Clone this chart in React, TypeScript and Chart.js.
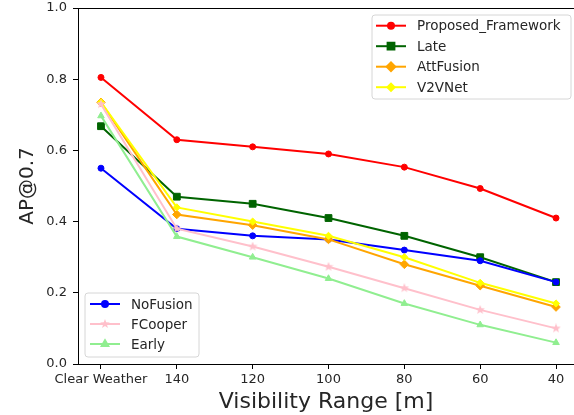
import React, { useEffect, useRef } from "react";
import { Chart, registerables } from "chart.js";
import { drawPoint } from "chart.js/helpers";

Chart.register(...registerables);

const categories = ["Clear Weather", "140", "120", "100", "80", "60", "40"];
const proposed = [0.805, 0.63, 0.61, 0.59, 0.553, 0.493, 0.41];
const late = [0.668, 0.47, 0.45, 0.41, 0.36, 0.3, 0.23];
const attFusion = [0.735, 0.42, 0.39, 0.35, 0.28, 0.22, 0.16];
const v2vNet = [0.735, 0.44, 0.4, 0.36, 0.3, 0.228, 0.17];
const noFusion = [0.55, 0.38, 0.36, 0.35, 0.32, 0.29, 0.23];
const fCooper = [0.73, 0.38, 0.33, 0.273, 0.213, 0.152, 0.1];
const early = [0.697, 0.358, 0.3, 0.24, 0.17, 0.11, 0.06];
const yTicks = [0, 0.2, 0.4, 0.6, 0.8, 1.0];

const FONT = "'DejaVu Sans', sans-serif";
const TEXT = "#262626";

function makeStar(color: string, size: number): HTMLCanvasElement {
  const c = document.createElement("canvas");
  c.width = size;
  c.height = size;
  const ctx = c.getContext("2d")!;
  const cx = size / 2, cy = size / 2;
  const ro = size / 2, ri = ro * 0.42;
  ctx.beginPath();
  for (let i = 0; i < 10; i++) {
    const r = i % 2 === 0 ? ro : ri;
    const a = -Math.PI / 2 + (i * Math.PI) / 5;
    const x = cx + r * Math.cos(a), y = cy + r * Math.sin(a);
    if (i === 0) ctx.moveTo(x, y); else ctx.lineTo(x, y);
  }
  ctx.closePath();
  ctx.fillStyle = color;
  ctx.fill();
  return c;
}

type Series = { label: string; data: number[]; color: string; style: any; radius: number; order: number };

export default function App() {
  const ref = useRef<HTMLCanvasElement>(null);
  useEffect(() => {
    const star = makeStar("#FFC0CB", 10);
    const series: Series[] = [
      { label: "Proposed_Framework", data: proposed, color: "#FF0000", style: "circle", radius: 3, order: 1 },
      { label: "Late", data: late, color: "#006400", style: "rect", radius: 4.8, order: 7 },
      { label: "AttFusion", data: attFusion, color: "#FFA500", style: "rectRot", radius: 4.3, order: 5 },
      { label: "V2VNet", data: v2vNet, color: "#FFFF00", style: "rectRot", radius: 3.6, order: 4 },
      { label: "NoFusion", data: noFusion, color: "#0000FF", style: "circle", radius: 3, order: 6 },
      { label: "FCooper", data: fCooper, color: "#FFC0CB", style: star, radius: 4, order: 3 },
      { label: "Early", data: early, color: "#90EE90", style: "triangle", radius: 3.8, order: 2 },
    ];
    const legendTop = ["Proposed_Framework", "Late", "AttFusion", "V2VNet"];
    const legendBottom = ["NoFusion", "FCooper", "Early"];

    const legendPlugin = {
      id: "mplLegends",
      afterDraw(chart: any) {
        const ctx = chart.ctx as CanvasRenderingContext2D;
        const ca = chart.chartArea;
        ctx.save();
        ctx.strokeStyle = "#000";
        ctx.lineWidth = 1;
        ctx.beginPath();
        ctx.moveTo(ca.left, Math.round(ca.top) + 0.5);
        ctx.lineTo(ca.right, Math.round(ca.top) + 0.5);
        ctx.stroke();

        const drawLegend = (names: string[], bx: number, by: number, bw: number, bh: number, lineX0: number, textX: number, rowY0: number, rowDy: number) => {
          ctx.save();
          ctx.beginPath();
          const r = 3;
          ctx.moveTo(bx + r, by);
          ctx.arcTo(bx + bw, by, bx + bw, by + bh, r);
          ctx.arcTo(bx + bw, by + bh, bx, by + bh, r);
          ctx.arcTo(bx, by + bh, bx, by, r);
          ctx.arcTo(bx, by, bx + bw, by, r);
          ctx.closePath();
          ctx.fillStyle = "rgba(255,255,255,0.8)";
          ctx.fill();
          ctx.strokeStyle = "#d6d6d6";
          ctx.lineWidth = 1;
          ctx.stroke();
          names.forEach((n, i) => {
            const s = series.find((q) => q.label === n)!;
            const y = rowY0 + i * rowDy;
            ctx.strokeStyle = s.color;
            ctx.lineWidth = 2;
            ctx.beginPath();
            ctx.moveTo(lineX0, y);
            ctx.lineTo(lineX0 + 30, y);
            ctx.stroke();
            ctx.fillStyle = s.color;
            ctx.strokeStyle = s.color;
            drawPoint(ctx, { pointStyle: s.style, radius: s.radius, rotation: 0, borderWidth: 1 } as any, lineX0 + 15, y);
            ctx.fillStyle = TEXT;
            ctx.font = `13.5px ${FONT}`;
            ctx.textAlign = "left";
            ctx.textBaseline = "middle";
            ctx.fillText(n, textX, y + 1);
          });
          ctx.restore();
        };
        drawLegend(legendTop, 372, 15, 199, 84, 376, 417, 25.7, 20.5);
        drawLegend(legendBottom, 85, 293, 114, 64, 90, 131, 304, 20);
        ctx.restore();
      },
    };

    const chart = new Chart(ref.current!, {
      type: "line",
      data: {
        datasets: series.map((s) => ({
          label: s.label,
          data: s.data.map((v, i) => ({ x: i, y: v })),
          borderColor: s.color,
          backgroundColor: s.color,
          pointBackgroundColor: s.color,
          pointBorderColor: s.color,
          pointStyle: s.style,
          pointRadius: s.radius,
          pointBorderWidth: 1,
          borderWidth: 2,
          tension: 0,
          order: s.order,
          clip: false,
        })),
      },
      options: {
        animation: false,
        responsive: false,
        events: [],
        layout: { autoPadding: false, padding: { top: 8, right: 0, left: 0, bottom: 0 } },
        plugins: { legend: { display: false }, tooltip: { enabled: false } },
        scales: {
          x: {
            type: "linear",
            min: -0.303,
            max: 6.237,
            afterBuildTicks: (scale: any) => {
              scale.ticks = categories.map((_, i) => ({ value: i }));
            },
            afterFit: (scale: any) => {
              scale.height = 51;
              scale.paddingLeft = 0;
              scale.paddingRight = 0;
            },
            ticks: {
              autoSkip: false,
              maxRotation: 0,
              padding: 3,
              color: TEXT,
              font: { family: FONT, size: 13 },
              callback: (v: any) => categories[v as number] ?? "",
            },
            grid: { drawOnChartArea: false, drawTicks: true, tickLength: 5, color: "#000", lineWidth: 1 },
            border: { display: true, color: "#000", width: 1 },
            title: {
              display: true,
              text: "Visibility Range [m]",
              color: TEXT,
              font: { family: FONT, size: 22 },
              padding: { top: 0, bottom: 0 },
            },
          },
          y: {
            type: "linear",
            min: 0,
            max: 1,
            afterBuildTicks: (scale: any) => {
              scale.ticks = yTicks.map((v) => ({ value: v }));
            },
            afterFit: (scale: any) => {
              scale.width = 78;
              scale.paddingTop = 0;
              scale.paddingBottom = 0;
            },
            ticks: {
              padding: 6,
              color: TEXT,
              font: { family: FONT, size: 13 },
              callback: (v: any) => Number(v).toFixed(1),
            },
            grid: { drawOnChartArea: false, drawTicks: true, tickLength: 5, color: "#000", lineWidth: 1 },
            border: { display: true, color: "#000", width: 1 },
            title: {
              display: true,
              text: "AP@0.7",
              color: TEXT,
              font: { family: FONT, size: 20 },
              padding: { top: 16, bottom: 0 },
            },
          },
        },
      },
      plugins: [legendPlugin],
    } as any);
    return () => chart.destroy();
  }, []);

  return (
    <div style={{ position: "fixed", left: 0, top: 0, width: 574, height: 415, background: "#fff" }}>
      <canvas ref={ref} width={574} height={415} style={{ display: "block", width: 574, height: 415 }} />
    </div>
  );
}
